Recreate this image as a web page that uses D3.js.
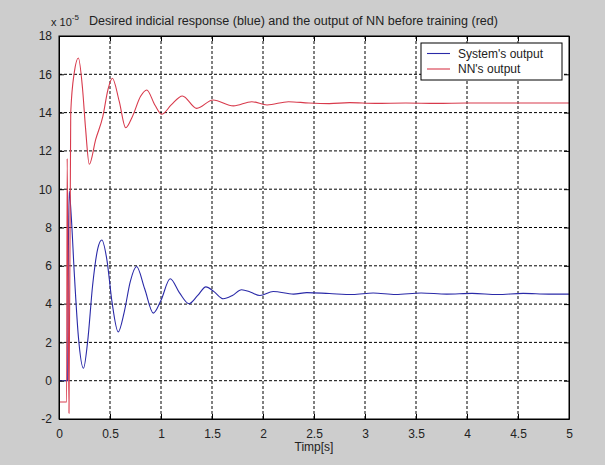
<!DOCTYPE html>
<html>
<head>
    <meta charset="utf-8">
    <title>Indicial response</title>
    <script src="https://d3js.org/d3.v7.min.js"></script>
    <style>
        body { margin: 0; background: #cdcdcd; }
        text { font-family: "Liberation Sans", Arial, sans-serif; fill: #222; }
        .grid line { stroke: #000; stroke-dasharray: 3,2; stroke-width: 1; }
        .series { fill: none; stroke-width: 1.1; }
    </style>
</head>
<body>
<div id="chart"></div>
<script>
    // Values (y in units of 1e-5)
    const xTicks = [0, 0.5, 1, 1.5, 2, 2.5, 3, 3.5, 4, 4.5, 5];
    const yTicks = [-2, 0, 2, 4, 6, 8, 10, 12, 14, 16, 18];

    const systemT = [0, 0.085, 0.09, 0.1, 0.12, 0.15, 0.19, 0.24, 0.28, 0.33, 0.38, 0.42, 0.47, 0.52, 0.58,
        0.64, 0.70, 0.76, 0.84, 0.925, 1.0, 1.09, 1.18, 1.275, 1.36, 1.44, 1.52, 1.61, 1.7, 1.79, 1.88,
        1.97, 2.1, 2.3, 2.43, 2.65, 2.88, 3.08, 3.3, 3.55, 3.8, 4.05, 4.3, 4.55, 4.8, 5.0];
    const systemV = [0, 0, 5.2, 9.9, 8.6, 5.6, 2.3, 0.65, 2.0, 5.0, 6.9, 7.35, 6.3, 4.1, 2.55,
        3.6, 5.2, 5.96, 4.8, 3.53, 4.2, 5.32, 4.6, 4.02, 4.45, 4.9, 4.65, 4.28, 4.45, 4.75, 4.62,
        4.45, 4.66, 4.52, 4.6, 4.55, 4.5, 4.58, 4.5, 4.58, 4.52, 4.56, 4.5, 4.56, 4.52, 4.52];

    const nnT = [0, 0.075, 0.08, 0.098, 0.115, 0.15, 0.19, 0.23, 0.26, 0.297, 0.36, 0.43, 0.48, 0.523,
        0.59, 0.654, 0.72, 0.8, 0.86, 0.94, 1.007, 1.1, 1.21, 1.35, 1.51, 1.71, 1.89, 2.04, 2.25,
        2.45, 2.65, 2.85, 3.1, 3.4, 3.7, 4.0, 4.3, 4.6, 5.0];
    const nnV = [-1.11, -1.11, 11.6, -1.7, 14.0, 16.1, 16.85, 15.3, 13.2, 11.3, 12.6, 13.8, 15.2, 15.79,
        14.6, 13.21, 13.8, 14.85, 15.18, 14.4, 13.91, 14.4, 14.87, 14.22, 14.66, 14.35, 14.57, 14.4, 14.57,
        14.5, 14.47, 14.52, 14.48, 14.5, 14.48, 14.5, 14.5, 14.5, 14.5];

    const seriesNames = ["System's output", "NN's output"];
    const seriesColors = ["#2a2aa8", "#d83a4c"];

    const W = 605, H = 465;
    const plot = {left: 59, right: 569, top: 36, bottom: 419};

    const svg = d3.select("#chart").append("svg")
        .attr("width", W).attr("height", H);

    svg.append("rect").attr("width", W).attr("height", H).attr("fill", "#cdcdcd");

    const x = d3.scaleLinear().domain([0, 5]).range([plot.left, plot.right]);
    const y = d3.scaleLinear().domain([-2, 18]).range([plot.bottom, plot.top]);

    // axes area
    svg.append("rect")
        .attr("x", plot.left).attr("y", plot.top)
        .attr("width", plot.right - plot.left).attr("height", plot.bottom - plot.top)
        .attr("fill", "#fff");

    // grid
    const grid = svg.append("g").attr("class", "grid");
    grid.selectAll(".vx").data(xTicks.slice(1, -1)).join("line")
        .attr("x1", d => x(d)).attr("x2", d => x(d))
        .attr("y1", plot.top).attr("y2", plot.bottom);
    grid.selectAll(".hy").data(yTicks.slice(1, -1)).join("line")
        .attr("class", "hy")
        .attr("x1", plot.left).attr("x2", plot.right)
        .attr("y1", d => y(d)).attr("y2", d => y(d));

    // clip
    svg.append("clipPath").attr("id", "clip").append("rect")
        .attr("x", plot.left).attr("y", plot.top)
        .attr("width", plot.right - plot.left).attr("height", plot.bottom - plot.top);

    const line = d3.line()
        .x(d => x(d[0])).y(d => y(d[1]))
        .curve(d3.curveMonotoneX);

    const series = [
        d3.zip(systemT, systemV),
        d3.zip(nnT, nnV)
    ];

    svg.append("g").attr("clip-path", "url(#clip)")
        .selectAll("path").data(series).join("path")
        .attr("class", "series")
        .attr("stroke", (d, i) => seriesColors[i])
        .attr("d", line);

    // axes with inward ticks (MATLAB style), plain hyphen minus
    const fmt = d => String(d);
    svg.append("g")
        .attr("transform", `translate(0,${plot.bottom})`)
        .call(d3.axisBottom(x).tickValues(xTicks).tickFormat(fmt)
            .tickSizeInner(-5).tickSizeOuter(0).tickPadding(10));
    svg.append("g")
        .attr("transform", `translate(${plot.left},0)`)
        .call(d3.axisLeft(y).tickValues(yTicks).tickFormat(fmt)
            .tickSizeInner(-5).tickSizeOuter(0).tickPadding(7));
    svg.append("g")
        .attr("transform", `translate(0,${plot.top})`)
        .call(d3.axisTop(x).tickValues(xTicks).tickFormat("").tickSizeInner(-5).tickSizeOuter(0));
    svg.append("g")
        .attr("transform", `translate(${plot.right},0)`)
        .call(d3.axisRight(y).tickValues(yTicks).tickFormat("").tickSizeInner(-5).tickSizeOuter(0));

    svg.selectAll(".domain").attr("stroke", "#000");
    svg.selectAll(".tick line").attr("stroke", "#000");
    svg.selectAll(".tick text").style("font-size", "12px").attr("fill", "#222");

    // frame
    svg.append("rect")
        .attr("x", plot.left).attr("y", plot.top)
        .attr("width", plot.right - plot.left).attr("height", plot.bottom - plot.top)
        .attr("fill", "none").attr("stroke", "#000");

    // exponent label
    const expo = svg.append("text").attr("x", 51).attr("y", 26).style("font-size", "11px");
    expo.append("tspan").text("x 10");
    expo.append("tspan").attr("dy", -6).style("font-size", "8px").text("-5");

    // title
    svg.append("text")
        .attr("x", 89).attr("y", 25)
        .attr("textLength", 409).attr("lengthAdjust", "spacingAndGlyphs")
        .style("font-size", "12px")
        .text("Desired indicial response (blue) and the output of NN before training (red)");

    // x label
    svg.append("text")
        .attr("x", (plot.left + plot.right) / 2).attr("y", 451)
        .attr("text-anchor", "middle")
        .style("font-size", "12px")
        .text("Timp[s]");

    // legend
    const lg = svg.append("g").attr("transform", "translate(421,43)");
    lg.append("rect").attr("width", 141).attr("height", 37)
        .attr("fill", "#fff").attr("stroke", "#000");
    const row = lg.selectAll(".row").data(seriesNames).join("g")
        .attr("transform", (d, i) => `translate(0,${10.5 + i * 15.5})`);
    row.append("line").attr("x1", 6).attr("x2", 29)
        .attr("stroke", (d, i) => seriesColors[i]).attr("stroke-width", 1.1);
    row.append("text").attr("x", 37).attr("dy", "0.35em")
        .style("font-size", "12px").text(d => d);
</script>
</body>
</html>
